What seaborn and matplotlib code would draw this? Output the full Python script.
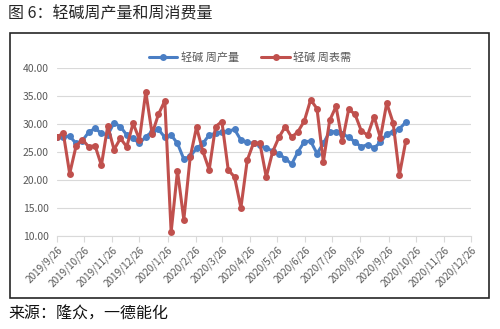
import numpy as np
import pandas as pd
import matplotlib
matplotlib.use("Agg")
import matplotlib.pyplot as plt
from matplotlib.patches import Rectangle
from matplotlib.lines import Line2D
import seaborn as sns

# Weekly soda ash (light) output and apparent demand, 10k tonnes
week_start = "2019-09-26"
n_weeks = 56

output_series = [
    27.7, 27.7, 27.8, 26.5, 27.0, 28.5, 29.2, 28.3, 28.0, 30.2,
    29.5, 28.0, 27.4, 26.5, 27.7, 28.6, 29.0, 27.6, 28.0, 26.5,
    23.7, 24.2, 25.6, 26.5, 28.0, 28.3, 28.5, 28.7, 29.0, 27.1,
    26.7, 26.5, 26.2, 25.6, 25.2, 24.6, 23.8, 22.8, 25.0, 26.8,
    26.9, 24.7, 26.5, 28.6, 28.6, 28.1, 27.7, 26.7, 25.9, 26.3,
    25.7, 26.7, 28.2, 28.6, 29.1, 30.3,
]
demand_series = [
    27.7, 28.3, 21.1, 26.0, 27.2, 25.9, 26.1, 22.6, 29.6, 25.4,
    27.4, 25.9, 30.1, 27.2, 35.7, 28.2, 31.7, 34.1, 10.7, 21.6,
    12.9, 24.0, 29.4, 25.1, 21.8, 29.5, 30.4, 21.8, 20.5, 15.0,
    23.5, 26.6, 26.5, 20.5, 25.0, 27.6, 29.5, 27.6, 28.6, 30.5,
    34.3, 32.7, 23.2, 30.6, 33.1, 26.9, 32.6, 31.7, 28.7, 28.0,
    31.3, 27.5, 33.7, 30.2, 20.9, 26.9,
]
series_names = ["轻碱 周产量", "轻碱 周表需"]
series_colors = ["#4A7EC4", "#C0504D"]

tick_labels = [
    "2019/9/26", "2019/10/26", "2019/11/26", "2019/12/26", "2020/1/26",
    "2020/2/26", "2020/3/26", "2020/4/26", "2020/5/26", "2020/6/26",
    "2020/7/26", "2020/8/26", "2020/9/26", "2020/10/26", "2020/11/26",
    "2020/12/26",
]
y_ticks = [10, 15, 20, 25, 30, 35, 40]

title_text = "图 6：轻碱周产量和周消费量"
source_text = "来源：隆众，一德能化"

dates = pd.date_range(week_start, periods=n_weeks, freq="7D")
df = pd.concat([
    pd.DataFrame({"date": dates, "value": output_series, "series": series_names[0]}),
    pd.DataFrame({"date": dates, "value": demand_series, "series": series_names[1]}),
], ignore_index=True)

sns.set_style("white")
plt.rcParams["font.family"] = ["Noto Sans CJK SC", "DejaVu Sans"]

fig = plt.figure(figsize=(5.0, 3.29), dpi=100)
ax = fig.add_axes([0.114, 0.283, 0.828, 0.511])

sns.lineplot(
    data=df, x="date", y="value", hue="series", hue_order=series_names,
    palette=series_colors, marker="o", markersize=5.0, markeredgewidth=0,
    linewidth=2.2, ax=ax, legend=False,
)

tick_dates = [pd.Timestamp(t.replace("/", "-")) for t in tick_labels]
ax.set_xlim(tick_dates[0], tick_dates[-1])
ax.set_ylim(10, 40)
ax.set_xticks(tick_dates)
ax.set_xticklabels(tick_labels, rotation=45, ha="right", rotation_mode="anchor",
                   fontsize=7.2, color="#595959")
ax.set_yticks(y_ticks)
ax.set_yticklabels([f"{v:.2f}" for v in y_ticks], fontsize=7.5, color="#595959")
ax.set_xlabel("")
ax.set_ylabel("")

ax.yaxis.grid(True, color="#D9D9D9", linewidth=0.8)
ax.xaxis.grid(False)
ax.set_axisbelow(True)
for side in ["top", "right", "left"]:
    ax.spines[side].set_visible(False)
ax.spines["bottom"].set_color("#D9D9D9")
ax.spines["bottom"].set_linewidth(0.8)
ax.tick_params(axis="x", which="major", direction="out", length=4, width=0.8,
               color="#D9D9D9", pad=2, bottom=True)
ax.tick_params(axis="y", length=0, pad=6)

handles = [
    Line2D([0], [0], color=c, lw=2.2, marker="o", markersize=5.0, markeredgewidth=0)
    for c in series_colors
]
fig.legend(handles, series_names, loc="center", bbox_to_anchor=(0.5, 0.824),
           ncol=2, frameon=False, fontsize=8, handlelength=2.6,
           handletextpad=0.3, columnspacing=2.0, labelcolor="#595959")

# Chart frame
fig.add_artist(Rectangle((0.02, 0.094), 0.958, 0.805, transform=fig.transFigure,
                         fill=False, edgecolor="#262626", linewidth=1.2))

fig.text(0.016, 0.958, title_text, fontsize=11.5, color="#262626",
         ha="left", va="center", fontweight="medium")
fig.text(0.016, 0.045, source_text, fontsize=11.5, color="#111111",
         ha="left", va="center")

fig.savefig("out.png", dpi=100)
